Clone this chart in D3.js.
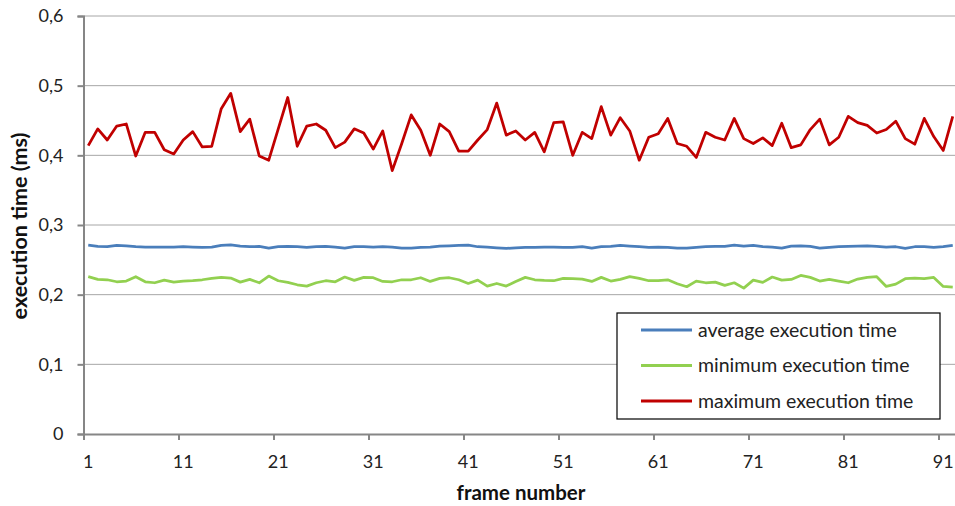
<!DOCTYPE html>
<html>
<head>
<meta charset="utf-8">
<script src="https://cdn.jsdelivr.net/npm/d3@7"></script>
<style>
  html, body { margin: 0; padding: 0; background: #fff; }
  svg { display: block; font-family: Lato, "Open Sans", sans-serif; }
</style>
</head>
<body>
<svg id="chart" width="955" height="506"></svg>
<script>
// Execution time per frame (ms)
const avgTime = [
  0.2712, 0.2693, 0.2688, 0.2707, 0.2702, 0.2688, 0.2683, 0.2683, 0.2683, 0.2683,
  0.2688, 0.2683, 0.2678, 0.2683, 0.2707, 0.2716, 0.2697, 0.2688, 0.2693, 0.2669,
  0.2688, 0.2693, 0.2688, 0.2678, 0.2688, 0.2693, 0.2683, 0.2669, 0.2688, 0.2688,
  0.2683, 0.2688, 0.2683, 0.2669, 0.2669, 0.2678, 0.2683, 0.2697, 0.2702, 0.2707,
  0.2712, 0.2688, 0.2683, 0.2673, 0.2664, 0.2673, 0.2678, 0.2678, 0.2683, 0.2683,
  0.2678, 0.2678, 0.2688, 0.2669, 0.2688, 0.2693, 0.2707, 0.2697, 0.2688, 0.2678,
  0.2683, 0.2678, 0.2669, 0.2669, 0.2678, 0.2688, 0.2693, 0.2693, 0.2712, 0.2697,
  0.2707, 0.2688, 0.2683, 0.2669, 0.2697, 0.2702, 0.2693, 0.2669, 0.2678, 0.2688,
  0.2693, 0.2697, 0.2702, 0.2693, 0.2683, 0.2688, 0.2664, 0.2688, 0.2688, 0.2678,
  0.2688, 0.2707
];
const minTime = [
  0.2258, 0.2219, 0.2214, 0.2185, 0.2195, 0.2258, 0.2185, 0.2171, 0.2209, 0.2180,
  0.2195, 0.2200, 0.2214, 0.2233, 0.2248, 0.2238, 0.2180, 0.2219, 0.2171, 0.2267,
  0.2200, 0.2176, 0.2142, 0.2123, 0.2171, 0.2200, 0.2185, 0.2253, 0.2205, 0.2248,
  0.2243, 0.2190, 0.2185, 0.2214, 0.2214, 0.2243, 0.2190, 0.2233, 0.2243, 0.2214,
  0.2161, 0.2209, 0.2123, 0.2161, 0.2123, 0.2190, 0.2248, 0.2214, 0.2205, 0.2200,
  0.2233, 0.2229, 0.2224, 0.2190, 0.2248, 0.2195, 0.2219, 0.2258, 0.2233, 0.2200,
  0.2200, 0.2214, 0.2157, 0.2114, 0.2195, 0.2171, 0.2180, 0.2133, 0.2171, 0.2094,
  0.2209, 0.2176, 0.2253, 0.2209, 0.2219, 0.2276, 0.2248, 0.2195, 0.2219, 0.2195,
  0.2171, 0.2224, 0.2248, 0.2258, 0.2118, 0.2152, 0.2229, 0.2238, 0.2229, 0.2248,
  0.2118, 0.2109
];
const maxTime = [
  0.414, 0.438, 0.422, 0.442, 0.445, 0.399, 0.433, 0.433, 0.408, 0.402,
  0.422, 0.434, 0.412, 0.413, 0.467, 0.489, 0.434, 0.452, 0.399, 0.393,
  0.438, 0.483, 0.413, 0.442, 0.445, 0.436, 0.411, 0.419, 0.438, 0.432,
  0.409, 0.435, 0.378, 0.417, 0.458, 0.436, 0.400, 0.445, 0.434, 0.406,
  0.406, 0.422, 0.437, 0.475, 0.429, 0.435, 0.422, 0.433, 0.405, 0.447,
  0.448, 0.400, 0.433, 0.424, 0.470, 0.429, 0.454, 0.435, 0.393, 0.426,
  0.431, 0.453, 0.417, 0.413, 0.397, 0.433, 0.426, 0.422, 0.453, 0.424,
  0.417, 0.425, 0.414, 0.446, 0.411, 0.415, 0.437, 0.452, 0.415, 0.426,
  0.456, 0.447, 0.443, 0.432, 0.437, 0.449, 0.424, 0.416, 0.453, 0.427,
  0.407, 0.456
];
const frames = d3.range(1, maxTime.length + 1);
const xTickLabels = [1, 11, 21, 31, 41, 51, 61, 71, 81, 91];
const yTicks = [0, 0.1, 0.2, 0.3, 0.4, 0.5, 0.6];

const seriesNames = ["average execution time", "minimum execution time", "maximum execution time"];
const seriesColors = ["#4a7ebb", "#92d050", "#c00000"];
const seriesValues = [avgTime, minTime, maxTime];

const svg = d3.select("#chart");
const plotLeft = 83.5, plotTop = 16, plotBottom = 434;
const catWidth = 9.5;
const plotRight = plotLeft + frames.length * catWidth;

const x = d3.scaleLinear().domain([0.5, frames.length + 0.5]).range([plotLeft, plotRight]);
const y = d3.scaleLinear().domain([0, 0.6]).range([plotBottom, plotTop]);
const fmt = v => (v === 0 ? "0" : d3.format(".1f")(v).replace(".", ","));

// horizontal gridlines
svg.append("g")
  .selectAll("line")
  .data(yTicks.filter(v => v > 0))
  .join("line")
  .attr("x1", plotLeft).attr("x2", 955)
  .attr("y1", d => y(d)).attr("y2", d => y(d))
  .attr("stroke", "#a6a6a6").attr("stroke-width", 1);

// y axis
const yAxis = svg.append("g")
  .attr("transform", `translate(${plotLeft},0)`)
  .call(d3.axisLeft(y).tickValues(yTicks).tickFormat(fmt).tickSize(6).tickPadding(14));
yAxis.select(".domain").attr("stroke", "#868686").attr("stroke-width", 2);
yAxis.selectAll(".tick line").attr("stroke", "#868686").attr("stroke-width", 2);
yAxis.selectAll(".tick text").attr("font-size", 18).attr("fill", "#222")
  .attr("font-family", "Lato, sans-serif");

// x axis: tick marks on category boundaries, labels at category centres
const xAxis = svg.append("g")
  .attr("transform", `translate(0,${plotBottom})`)
  .call(d3.axisBottom(x).tickValues(xTickLabels.map(v => v - 0.5)).tickFormat("").tickSize(6).tickSizeOuter(0));
xAxis.select(".domain").attr("stroke", "#868686").attr("stroke-width", 2);
xAxis.selectAll(".tick line").attr("stroke", "#868686").attr("stroke-width", 2);

svg.append("g")
  .selectAll("text")
  .data(xTickLabels)
  .join("text")
  .attr("x", d => x(d))
  .attr("y", plotBottom + 34)
  .attr("text-anchor", "middle")
  .attr("font-size", 18)
  .attr("fill", "#222")
  .text(d => d);

// series lines
const line = d3.line()
  .x((d, i) => x(frames[i]))
  .y(d => y(d));

seriesValues.forEach((vals, k) => {
  svg.append("path")
    .datum(vals)
    .attr("d", line)
    .attr("fill", "none")
    .attr("stroke", seriesColors[k])
    .attr("stroke-width", 2.75)
    .attr("stroke-linejoin", "round");
});

// axis titles
svg.append("text")
  .attr("x", 521).attr("y", 500)
  .attr("text-anchor", "middle")
  .attr("font-size", 20.5).attr("font-weight", "bold").attr("fill", "#111")
  .text("frame number");

svg.append("text")
  .attr("transform", "translate(27,226) rotate(-90)")
  .attr("text-anchor", "middle")
  .attr("font-size", 21.5).attr("font-weight", "bold").attr("fill", "#111")
  .text("execution time (ms)");

// legend
const legend = svg.append("g").attr("transform", "translate(617,313)");
legend.append("rect")
  .attr("width", 323).attr("height", 106)
  .attr("fill", "#fff").attr("stroke", "#000").attr("stroke-width", 1.2);
const rows = legend.selectAll("g.row")
  .data(seriesNames)
  .join("g")
  .attr("class", "row")
  .attr("transform", (d, i) => `translate(0,${17 + i * 35.5})`);
rows.append("line")
  .attr("x1", 24).attr("x2", 75)
  .attr("stroke", (d, i) => seriesColors[i]).attr("stroke-width", 3);
rows.append("text")
  .attr("x", 81).attr("y", 0).attr("dy", "0.35em")
  .attr("font-size", 19.5).attr("fill", "#222")
  .text(d => d);
</script>
</body>
</html>
